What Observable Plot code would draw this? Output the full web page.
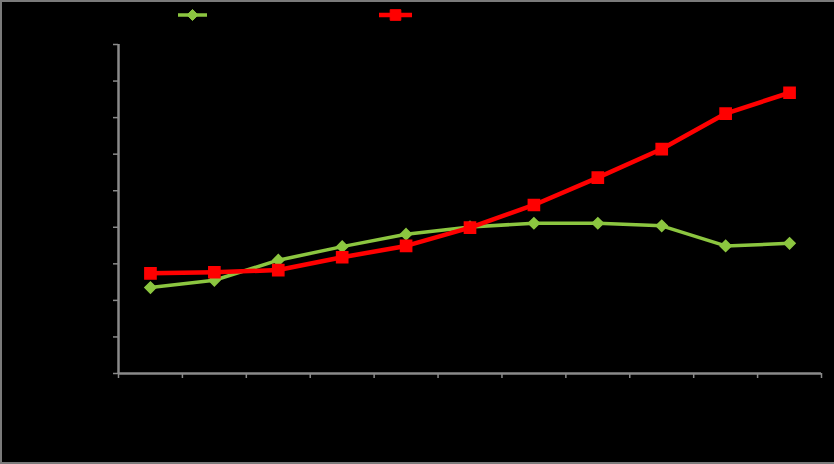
<!DOCTYPE html>
<html><head><meta charset="utf-8">
<script src="https://cdn.jsdelivr.net/npm/d3@7"></script>
<script src="https://cdn.jsdelivr.net/npm/@observablehq/plot@0.6"></script>
<style>
html,body{margin:0;padding:0;background:#000;}
#wrap{position:relative;width:834px;height:464px;box-sizing:border-box;border:2px solid #7a7a7a;border-right:none;overflow:hidden;background:#000;font-family:"Liberation Sans",Arial,sans-serif;}
#chart{position:absolute;left:-2px;top:-2px;}
.leg{position:absolute;top:5px;display:flex;align-items:center;gap:4px;font-size:12px;color:#000;}
</style></head>
<body>
<div id="wrap">
  <div id="chart"></div>
  <div class="leg" style="left:175px"><svg width="31" height="16" id="sw0"></svg><span id="lab0"></span></div>
  <div class="leg" style="left:376px"><svg width="35" height="16" id="sw1"></svg><span id="lab1"></span></div>
</div>
<script>
const categories = ["1","2","3","4","5","6","7","8","9","10","11"];
const seriesNames = ["Series 1","Series 2"];
const seriesColors = ["#8cc640","#ff0000"];
const series1 = [23.5, 25.5, 31.0, 34.7, 38.1, 40.1, 41.1, 41.1, 40.4, 34.9, 35.6];
const series2 = [27.4, 27.7, 28.3, 31.8, 34.9, 39.9, 46.1, 53.6, 61.4, 71.1, 76.8];
const yTicks = [0,10,20,30,40,50,60,70,80,90];

const data = [];
categories.forEach((c,i)=>{
  data.push({i, c, v: series1[i], s: seriesNames[0]});
  data.push({i, c, v: series2[i], s: seriesNames[1]});
});
const d1 = data.filter(d=>d.s===seriesNames[0]);
const d2 = data.filter(d=>d.s===seriesNames[1]);
const axisGray = "#8a8a8a";

const chart = Plot.plot({
  width: 834, height: 464,
  marginLeft: 118, marginRight: 13, marginTop: 44, marginBottom: 91,
  style: {background: "transparent", color: "#000", fontFamily: "Liberation Sans, Arial, sans-serif", fontSize: "11px"},
  x: {domain: [0, categories.length], axis: null},
  y: {domain: [0, 90], axis: null},
  marks: [
    Plot.axisY(yTicks, {tickSize: 5, stroke: axisGray, strokeWidth: 1.5, fill: "#000", tickPadding: 4}),
    Plot.axisX(d3.range(categories.length + 1), {tickSize: 5, stroke: axisGray, strokeWidth: 1.5, tickFormat: () => ""}),
    Plot.axisX(categories.map((c,i)=>i+0.5), {tickSize: 0, tickPadding: 10, fill: "#000", tickFormat: (x) => categories[Math.floor(x)]}),
    Plot.ruleY([0], {stroke: axisGray, strokeWidth: 2.5}),
    Plot.ruleX([0], {stroke: axisGray, strokeWidth: 2.5}),
    Plot.line(d1, {x: d=>d.i+0.5, y: "v", stroke: seriesColors[0], strokeWidth: 3.5}),
    Plot.dot(d1, {x: d=>d.i+0.5, y: "v", symbol: "diamond2", r: 5, fill: seriesColors[0], stroke: seriesColors[0]}),
    Plot.line(d2, {x: d=>d.i+0.5, y: "v", stroke: seriesColors[1], strokeWidth: 4.5}),
    Plot.dot(d2, {x: d=>d.i+0.5, y: "v", symbol: "square", r: 6.3, fill: seriesColors[1], stroke: seriesColors[1]})
  ]
});
document.getElementById("chart").appendChild(chart);

// legend swatches
[["#sw0","diamond2",31,5,3.5],["#sw1","square",35,6,4.5]].forEach(([sel,sym,w,r,sw],k)=>{
  const g = d3.select(sel);
  g.append("line").attr("x1",1).attr("x2",w-1).attr("y1",8).attr("y2",8).attr("stroke",seriesColors[k]).attr("stroke-width",sw);
  g.append("path").attr("transform",`translate(${w/2},8)`)
    .attr("d", d3.symbol(sym==="square"?d3.symbolSquare:d3.symbolDiamond2, Math.PI*r*r)())
    .attr("fill",seriesColors[k]).attr("stroke",seriesColors[k]);
  document.getElementById("lab"+k).textContent = seriesNames[k];
});
</script>
</body></html>
